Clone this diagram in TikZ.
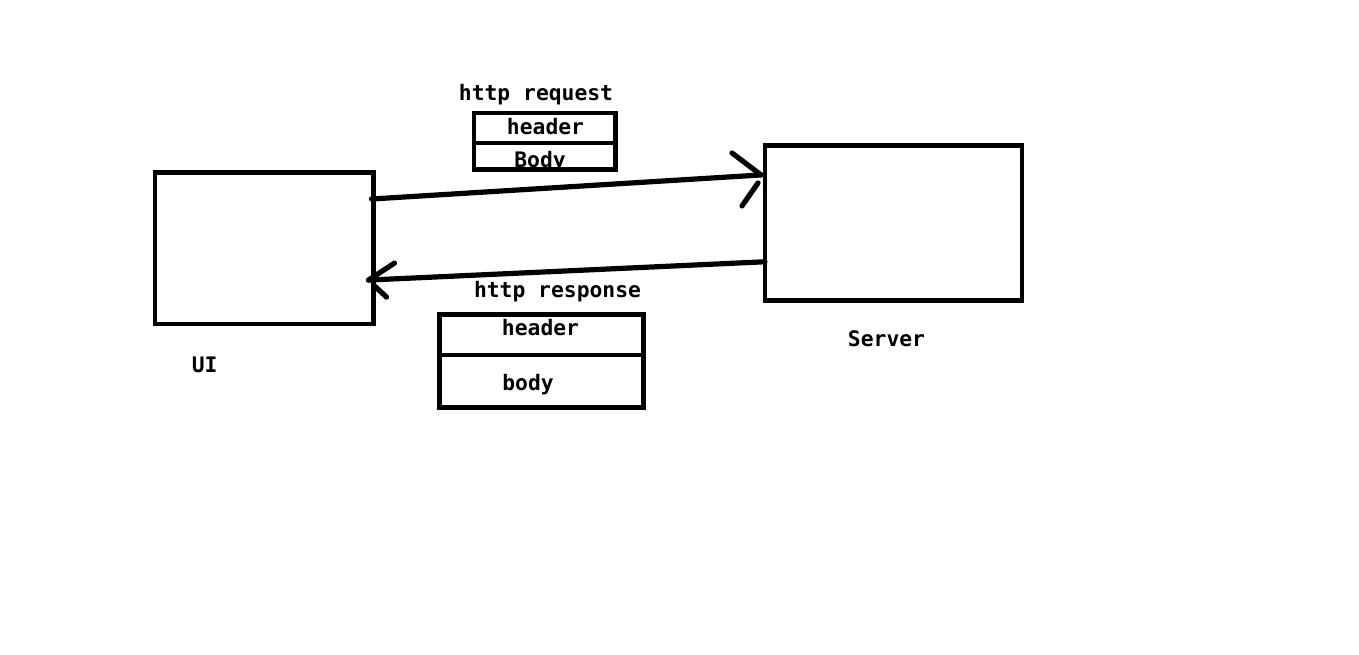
\documentclass[tikz,border=0pt]{standalone}
\usepackage{fontspec}
\newfontfamily\monofont{DejaVu Sans Mono}
\usetikzlibrary{calc}
\begin{document}
\begin{tikzpicture}[x=0.75pt,y=-0.75pt,
  box/.style={draw,line width=3.7pt,rectangle,inner sep=0pt,outer sep=0pt},
  lbl/.style={anchor=base,inner sep=0pt,font=\monofont\bfseries\fontsize{16}{19}\selectfont},
  conn/.style={line width=3.9pt,line cap=round,line join=round}]
\useasboundingbox (0,0) rectangle (1359,654);
% main boxes
\node[box,minimum width=218.5*0.75pt,minimum height=151.5*0.75pt] (ui) at (264.25,248.25) {};
\node[box,minimum width=257*0.75pt,minimum height=155*0.75pt] (server) at (893.5,223) {};
% request box
\node[box,minimum width=141.5*0.75pt,minimum height=30*0.75pt] (reqh) at (544.75,128) {};
\node[box,minimum width=141.5*0.75pt,minimum height=26.5*0.75pt] (reqb) at (544.75,156.25) {};
% response box
\node[box,minimum width=204*0.75pt,minimum height=40.5*0.75pt] (resh) at (541.5,334.75) {};
\node[box,minimum width=204*0.75pt,minimum height=52.5*0.75pt] (resb) at (541.5,381.25) {};
% labels
\node[lbl] (treq) at (536,100) {http request};
\node[lbl] (treqh) at (545.5,134) {header};
\node[lbl] (treqb) at (540,167) {Body};
\node[lbl] (tres) at (557.5,297) {http response};
\node[lbl] (tresh) at (540.5,335.5) {header};
\node[lbl] (tresb) at (528,390) {body};
\node[lbl] (tui) at (204.7,372) {UI};
\node[lbl] (tserver) at (886.5,346.5) {Server};
% connectors
\coordinate (reqS) at ($(ui.north east)!0.175!(ui.south east)+(-2,0)$);
\coordinate (reqE) at ($(server.north west)!0.19!(server.south west)+(-4,0)$);
\coordinate (resS) at ($(server.north west)!0.75!(server.south west)$);
\coordinate (resE) at ($(ui.north east)!0.71!(ui.south east)+(-5,0)$);
\draw[conn] (reqS) -- (reqE);
\draw[conn] ($(reqE)+(-29,-22)$) -- (reqE);
\draw[conn] ($(reqE)+(-19,31)$) -- ($(reqE)+(-3,8)$);
\draw[conn] (resS) -- (resE);
\draw[conn] ($(resE)+(26,-17)$) -- (resE);
\draw[conn] ($(resE)+(5,5)$) -- ($(resE)+(18,17)$);
\end{tikzpicture}
\end{document}
